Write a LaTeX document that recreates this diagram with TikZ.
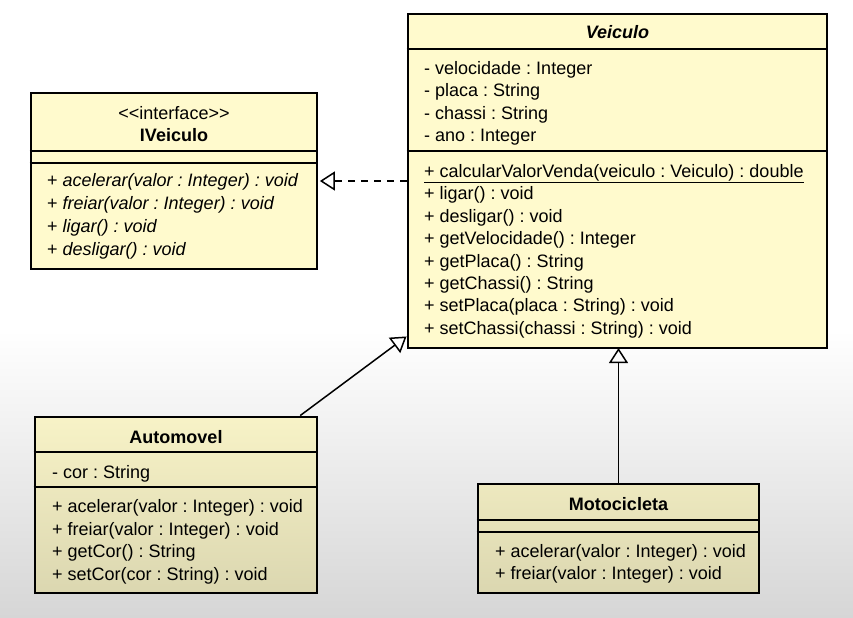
\documentclass[tikz,border=0pt]{standalone}
\usepackage{fontspec}
\setmainfont{Liberation Sans}
\usetikzlibrary{arrows.meta,calc}

\definecolor{classfill}{RGB}{255,250,205}
\definecolor{bggray}{RGB}{214,214,214}

\tikzset{
  classbox/.style={draw=black, line width=2.9bp, fill=classfill, inner sep=0pt},
  sepline/.style={line width=2.2bp},
  member/.style={anchor=west, inner sep=0pt, text height=12.8bp, text depth=0pt,
    font=\fontsize{18bp}{20bp}\selectfont\frenchspacing},
  classname/.style={inner sep=0pt, text height=12.8bp, text depth=0pt,
    font=\fontsize{18bp}{20bp}\selectfont\bfseries},
  opentip/.style={-{Triangle[open, length=15bp, width=19bp, line width=1.5bp]}},
  extends/.style={opentip, line width=1.5bp},
  realizes/.style={opentip, line width=1.5bp, dash pattern=on 7bp off 6bp},
}

\begin{document}
\begin{tikzpicture}[x=1bp, y=-1bp]
        \useasboundingbox (0,0) rectangle (853,618);
        \fill[white] (0,0) rectangle (853,331);
        \shade[top color=white, bottom color=bggray] (0,330) rectangle (853,618);

        \node[classbox, minimum width=419bp, minimum height=334bp] (veiculo) at (617.5,181) {};
        \node[classbox, minimum width=286bp, minimum height=176bp] (iveiculo) at (174,181) {};
        \node[classbox, minimum width=282bp, minimum height=176bp, top color=classfill!97!black,
            bottom color=classfill!86!black] (automovel) at (176,505) {};
        \node[classbox, minimum width=281bp, minimum height=109bp, top color=classfill!93!black,
            bottom color=classfill!86!black] (motocicleta) at (618.5,538.5) {};

        \draw[sepline] (veiculo.west |- 0,49) -- (veiculo.east |- 0,49);
        \draw[sepline] (veiculo.west |- 0,151) -- (veiculo.east |- 0,151);
        \draw[sepline] (iveiculo.west |- 0,151) -- (iveiculo.east |- 0,151);
        \draw[sepline] (iveiculo.west |- 0,163) -- (iveiculo.east |- 0,163);
        \draw[sepline] (automovel.west |- 0,452) -- (automovel.east |- 0,452);
        \draw[sepline] (automovel.west |- 0,487) -- (automovel.east |- 0,487);
        \draw[sepline] (motocicleta.west |- 0,520) -- (motocicleta.east |- 0,520);
        \draw[sepline] (motocicleta.west |- 0,532) -- (motocicleta.east |- 0,532);

        \node[classname, font=\fontsize{18bp}{20bp}\selectfont\bfseries\itshape] (vname) at (617.5,32) {Veiculo};
        \foreach \t [count=\i from 0] in {- velocidade : Integer, - placa : String, - chassi : String, - ano : Integer}{
            \node[member] (vattr\i) at (424,68 + 22.4*\i) {\t};
        }
        \node[member] (vop0) at (424,171) {\underline{+ calcularValorVenda(veiculo : Veiculo) : double}};
        \foreach \t [count=\i from 1] in {+ ligar() : void, + desligar() : void, + getVelocidade() : Integer,
            + getPlaca() : String, + getChassi() : String, + setPlaca(placa : String) : void,
            + setChassi(chassi : String) : void}{
            \node[member] (vop\i) at (424,171 + 22.4*\i) {\t};
        }

        \node[classname, font=\fontsize{18bp}{20bp}\selectfont] (istereo) at (174,113) {<\kern0pt<interface>\kern0pt>};
        \node[classname] (iname) at (174,135) {IVeiculo};
        \foreach \t [count=\i from 0] in {acelerar(valor : Integer) : void, freiar(valor : Integer) : void,
            ligar() : void, desligar() : void}{
            \node[member] (iop\i) at (47,180 + 23*\i) {+ \textit{\t}};
        }

        \node[classname] (aname) at (176,437) {Automovel};
        \node[member] (aattr0) at (52,472) {- cor : String};
        \foreach \t [count=\i from 0] in {+ acelerar(valor : Integer) : void, + freiar(valor : Integer) : void,
            + getCor() : String, + setCor(cor : String) : void}{
            \node[member] (aop\i) at (52,506 + 22.7*\i) {\t};
        }

        \node[classname] (mname) at (618.5,504) {Motocicleta};
        \foreach \t [count=\i from 0] in {+ acelerar(valor : Integer) : void, + freiar(valor : Integer) : void}{
            \node[member] (mop\i) at (495,551 + 22*\i) {\t};
        }

        \draw[realizes] (veiculo.west |- iveiculo.east) -- ([xshift=1.4bp]iveiculo.east);
        \draw[extends] ($(automovel.north west)!0.936!(automovel.north east)$) -- ($(veiculo.south west)+(0,-13)$);
        \draw[extends] (motocicleta.north) -- ([yshift=1.4bp]motocicleta.north |- veiculo.south);
    \end{tikzpicture}
\end{document}
